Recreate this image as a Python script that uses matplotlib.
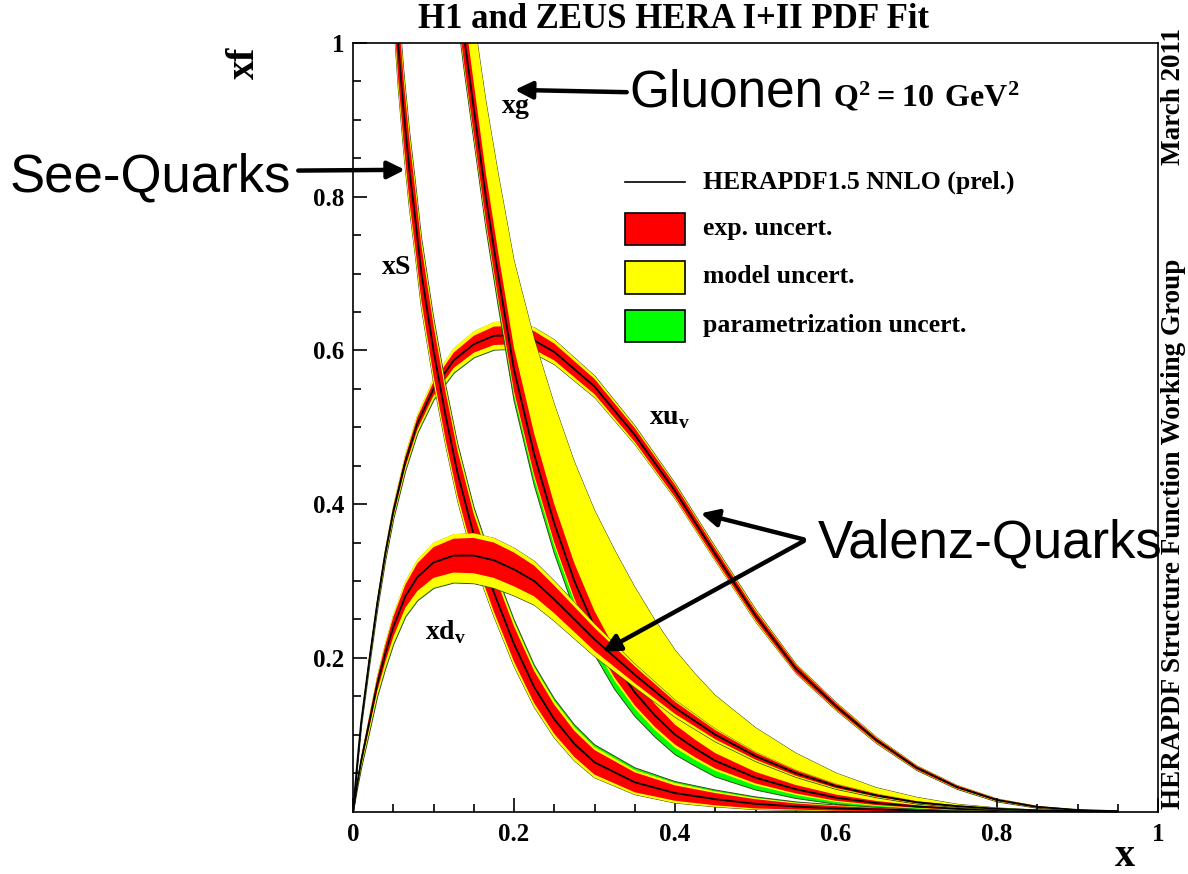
import numpy as np
import matplotlib
matplotlib.use("Agg")
import matplotlib.pyplot as plt
from matplotlib.patches import Rectangle
from matplotlib.lines import Line2D

W, H = 1188, 874

# --- PDF curves: central value and band half-widths ---
# xu_v
x_uv = np.array([0, 0.005, 0.01, 0.02, 0.03, 0.04, 0.05, 0.065, 0.08, 0.1, 0.125, 0.15, 0.175, 0.2, 0.225,
                 0.25, 0.3, 0.35, 0.4, 0.45, 0.5, 0.55, 0.6, 0.65, 0.7, 0.75, 0.8, 0.85, 0.9, 0.95])
uv_cen = np.array([0, 0.06, 0.115, 0.195, 0.27, 0.335, 0.39, 0.455, 0.505, 0.55, 0.587, 0.608, 0.619, 0.62, 0.613,
                   0.598, 0.553, 0.49, 0.417, 0.335, 0.255, 0.186, 0.137, 0.093, 0.057, 0.032, 0.015, 0.006, 0.002, 0.0004])
uv_exp = np.array([0, 0.002, 0.003, 0.004, 0.005, 0.005, 0.006, 0.007, 0.008, 0.009, 0.010, 0.011, 0.012, 0.012, 0.012,
                   0.011, 0.010, 0.009, 0.008, 0.007, 0.006, 0.005, 0.004, 0.003, 0.0025, 0.002, 0.0015, 0.001, 0.0005, 0.0002])
uv_mod = np.array([0, 0.003, 0.004, 0.006, 0.007, 0.008, 0.009, 0.011, 0.012, 0.014, 0.016, 0.017, 0.018, 0.018, 0.017,
                   0.016, 0.014, 0.012, 0.010, 0.009, 0.008, 0.006, 0.005, 0.004, 0.003, 0.0025, 0.002, 0.0012, 0.0006, 0.0003])

# xd_v
x_dv = x_uv
dv_cen = np.array([0, 0.035, 0.065, 0.115, 0.165, 0.205, 0.24, 0.28, 0.305, 0.324, 0.333, 0.333, 0.327, 0.315, 0.300,
                   0.276, 0.224, 0.178, 0.135, 0.100, 0.072, 0.050, 0.033, 0.021, 0.012, 0.007, 0.0035, 0.0015, 0.0005, 0.0001])
dv_exp = np.array([0, 0.003, 0.005, 0.007, 0.009, 0.011, 0.013, 0.015, 0.018, 0.020, 0.022, 0.023, 0.023, 0.022, 0.020,
                   0.018, 0.015, 0.011, 0.008, 0.006, 0.0045, 0.0035, 0.0025, 0.0018, 0.0012, 0.0008, 0.0005, 0.0002, 0.0001, 0])
dv_mod_up = np.array([0, 0.004, 0.006, 0.009, 0.012, 0.015, 0.017, 0.020, 0.023, 0.026, 0.028, 0.029, 0.029, 0.028, 0.026,
                      0.024, 0.020, 0.014, 0.010, 0.0075, 0.0055, 0.0042, 0.003, 0.0022, 0.0015, 0.001, 0.0006, 0.0003, 0.0001, 0])
dv_mod_dn = np.array([0, 0.005, 0.008, 0.012, 0.015, 0.019, 0.022, 0.026, 0.030, 0.033, 0.035, 0.036, 0.036, 0.034, 0.031,
                      0.028, 0.022, 0.016, 0.012, 0.009, 0.0065, 0.005, 0.0036, 0.0025, 0.0017, 0.0011, 0.0007, 0.0003, 0.0001, 0])

# xS (sea)
x_s = np.array([0.05, 0.056, 0.063, 0.07, 0.078, 0.085, 0.1, 0.115, 0.13, 0.15, 0.175, 0.2, 0.225, 0.25, 0.275,
                0.3, 0.35, 0.4, 0.45, 0.5, 0.55, 0.6, 0.7, 0.8])
s_cen = np.array([1.10, 1.00, 0.91, 0.835, 0.765, 0.70, 0.60, 0.515, 0.44, 0.36, 0.285, 0.218, 0.162, 0.12, 0.088,
                  0.064, 0.038, 0.024, 0.016, 0.010, 0.0065, 0.004, 0.0015, 0.0005])
s_exp = np.array([0.05, 0.045, 0.042, 0.040, 0.038, 0.036, 0.033, 0.031, 0.029, 0.027, 0.025, 0.023, 0.021, 0.019, 0.017,
                  0.016, 0.013, 0.010, 0.008, 0.006, 0.004, 0.003, 0.0012, 0.0004])
s_mod = np.array([0.062, 0.056, 0.052, 0.050, 0.047, 0.045, 0.041, 0.038, 0.036, 0.034, 0.031, 0.029, 0.026, 0.024, 0.022,
                  0.020, 0.016, 0.013, 0.010, 0.0075, 0.005, 0.0037, 0.0015, 0.0005])
s_par_up = np.array([0.065, 0.059, 0.055, 0.053, 0.050, 0.048, 0.044, 0.041, 0.039, 0.037, 0.034, 0.032, 0.029, 0.027, 0.025,
                     0.023, 0.019, 0.015, 0.012, 0.009, 0.006, 0.0045, 0.002, 0.0007])

# xg (gluon)
x_g = np.array([0.12, 0.139, 0.15, 0.165, 0.18, 0.2, 0.225, 0.25, 0.275, 0.3, 0.325, 0.35, 0.375, 0.4, 0.425, 0.45, 0.5,
                0.55, 0.6, 0.65, 0.7, 0.75, 0.8, 0.85, 0.9])
g_cen = np.array([1.16, 1.00, 0.915, 0.80, 0.70, 0.575, 0.465, 0.375, 0.30, 0.24, 0.193, 0.155, 0.125, 0.10, 0.082, 0.066, 0.044,
                  0.029, 0.018, 0.011, 0.0065, 0.0035, 0.0017, 0.0007, 0.0002])
g_exp = np.array([0.038, 0.035, 0.033, 0.031, 0.030, 0.028, 0.027, 0.025, 0.023, 0.021, 0.019, 0.017, 0.015, 0.013, 0.0115, 0.010, 0.0075,
                  0.0055, 0.004, 0.0027, 0.0017, 0.001, 0.0005, 0.0002, 0.0001])
g_mod_up = np.array([0.11, 0.115, 0.118, 0.125, 0.132, 0.142, 0.15, 0.155, 0.155, 0.152, 0.147, 0.137, 0.124, 0.11, 0.097, 0.085, 0.065,
                     0.047, 0.032, 0.02, 0.012, 0.006, 0.003, 0.0012, 0.0004])
g_mod_dn = np.array([0.042, 0.039, 0.037, 0.035, 0.034, 0.032, 0.031, 0.029, 0.027, 0.025, 0.023, 0.021, 0.019, 0.017, 0.015, 0.013, 0.010,
                     0.0075, 0.0055, 0.0037, 0.0024, 0.0014, 0.0007, 0.0003, 0.0001])
g_par_dn = np.array([0.046, 0.043, 0.041, 0.040, 0.040, 0.040, 0.040, 0.039, 0.038, 0.036, 0.034, 0.031, 0.028, 0.026, 0.023, 0.021, 0.016,
                     0.012, 0.0085, 0.0055, 0.0035, 0.002, 0.001, 0.0004, 0.0001])

x_ticks = [0, 0.2, 0.4, 0.6, 0.8, 1]
x_ticklabels = ["0", "0.2", "0.4", "0.6", "0.8", "1"]
y_ticks = [0.2, 0.4, 0.6, 0.8, 1]
y_ticklabels = ["0.2", "0.4", "0.6", "0.8", "1"]

legend_labels = ["HERAPDF1.5 NNLO (prel.)", "exp. uncert.", "model uncert.", "parametrization uncert."]

RED, YELLOW, GREEN = "#ff0000", "#ffff00", "#00ff00"
EDGE = "#3c4620"

plt.rcParams["font.family"] = ["Liberation Serif", "DejaVu Serif"]
plt.rcParams["font.weight"] = "bold"
plt.rcParams["mathtext.fontset"] = "custom"
plt.rcParams["mathtext.rm"] = "Liberation Serif:bold"
plt.rcParams["mathtext.bf"] = "Liberation Serif:bold"


def fx(px):
    return px / W


def fy(py):
    return 1 - py / H


def draw_pdf(ax, z, x, cen, exp, mod_up, mod_dn, par_up, par_dn):
    # stacked bands: parametrization (outer), model, experimental, then the central value
    ax.fill_between(x, cen - par_dn, cen + par_up, facecolor=GREEN, edgecolor=EDGE, lw=0.7, zorder=z)
    ax.fill_between(x, cen - mod_dn, cen + mod_up, facecolor=YELLOW, lw=0, zorder=z + 0.1)
    ax.fill_between(x, cen - exp, cen + exp, facecolor=RED, lw=0, zorder=z + 0.2)
    ax.plot(x, cen, color="black", lw=1.3, zorder=z + 0.3)


fig = plt.figure(figsize=(W / 100, H / 100), dpi=100)
ax = fig.add_axes([fx(353), fy(811.5), (1158 - 353) / W, (811.5 - 43) / H])

draw_pdf(ax, 1, x_uv, uv_cen, uv_exp, uv_mod, uv_mod, uv_mod, uv_mod)
draw_pdf(ax, 2, x_s, s_cen, s_exp, s_mod, s_mod, s_par_up, s_mod)
draw_pdf(ax, 3, x_g, g_cen, g_exp, g_mod_up, g_mod_dn, g_mod_up, g_par_dn)
draw_pdf(ax, 4, x_dv, dv_cen, dv_exp, dv_mod_up, dv_mod_dn, dv_mod_up, dv_mod_dn)

ax.set_xlim(0, 1)
ax.set_ylim(0, 1)
ax.set_xticks(x_ticks)
ax.set_xticklabels(x_ticklabels)
ax.set_yticks(y_ticks)
ax.set_yticklabels(y_ticklabels)
ax.set_xticks(np.arange(0.05, 1.0, 0.05), minor=True)
ax.set_yticks(np.arange(0.05, 1.0, 0.05), minor=True)
ax.tick_params(which="both", direction="in", top=False, right=False, width=1.2, labelsize=18)
ax.tick_params(which="major", length=10)
ax.tick_params(which="minor", length=5.5)
ax.tick_params(axis="x", pad=8)
ax.tick_params(axis="y", pad=6)
for sp in ax.spines.values():
    sp.set_linewidth(1.2)
    sp.set_zorder(10)

# curve labels
ax.text(0.202, 0.915, r"$\mathbf{xg}$", fontsize=20, ha="center", va="center")
ax.text(0.053, 0.708, r"$\mathbf{xS}$", fontsize=20, ha="center", va="center")
ax.text(0.393, 0.512, r"$\mathbf{xu}_\mathbf{v}$", fontsize=20, ha="center", va="center")
ax.text(0.115, 0.233, r"$\mathbf{xd}_\mathbf{v}$", fontsize=20, ha="center", va="center")

# legend
ax.add_line(Line2D([0.338, 0.412], [0.819, 0.819], color="black", lw=1.2, transform=ax.transAxes))
for yb, col in zip([0.737, 0.674, 0.611], [RED, YELLOW, GREEN]):
    ax.add_patch(Rectangle((0.338, yb), 0.074, 0.042, facecolor=col, edgecolor="black",
                           lw=1.2, transform=ax.transAxes))
for yt, lab in zip([0.819, 0.759, 0.696, 0.632], legend_labels):
    ax.text(0.435, yt, lab, fontsize=18.5, ha="left", va="center", transform=ax.transAxes)

# figure texts
fig.text(fx(674), fy(20), "H1 and ZEUS HERA I+II PDF Fit", fontsize=25, ha="center", va="center")
fig.text(fx(833), fy(97), r"$\mathbf{Q^2 = 10\ GeV^2}$", fontsize=23, ha="left", va="center")
fig.text(fx(244), fy(63), "xf", fontsize=28, rotation=90, ha="center", va="center")
fig.text(fx(1125), fy(856), "x", fontsize=29, ha="center", va="center")
fig.text(fx(1174), fy(809), "HERAPDF Structure Function Working Group", fontsize=19.5,
         rotation=90, ha="center", va="bottom")
fig.text(fx(1174), fy(28), "March 2011", fontsize=19.5, rotation=90, ha="center", va="top")

# annotations
sans = ["Liberation Sans", "DejaVu Sans"]
fig.text(fx(629), fy(93), "Gluonen", fontsize=37, family=sans, weight="normal", ha="left", va="center")
fig.text(fx(10), fy(177), "See-Quarks", fontsize=38, family=sans, weight="normal", ha="left", va="center")
fig.text(fx(818), fy(543), "Valenz-Quarks", fontsize=38, family=sans, weight="normal", ha="left", va="center")

arrow = dict(arrowstyle="-|>", lw=3.2, color="black", mutation_scale=26, shrinkA=0, shrinkB=0)
ax.annotate("", xy=(0.201, 0.939), xytext=(0.340, 0.936), arrowprops=arrow, annotation_clip=False, zorder=12)
ax.annotate("", xy=(0.0645, 0.835), xytext=(-0.068, 0.834), arrowprops=arrow, annotation_clip=False, zorder=12)
ax.annotate("", xy=(0.432, 0.388), xytext=(0.560, 0.354), arrowprops=arrow, annotation_clip=False, zorder=12)
ax.annotate("", xy=(0.310, 0.208), xytext=(0.560, 0.352), arrowprops=arrow, annotation_clip=False, zorder=12)

fig.savefig("out.png", dpi=100)
